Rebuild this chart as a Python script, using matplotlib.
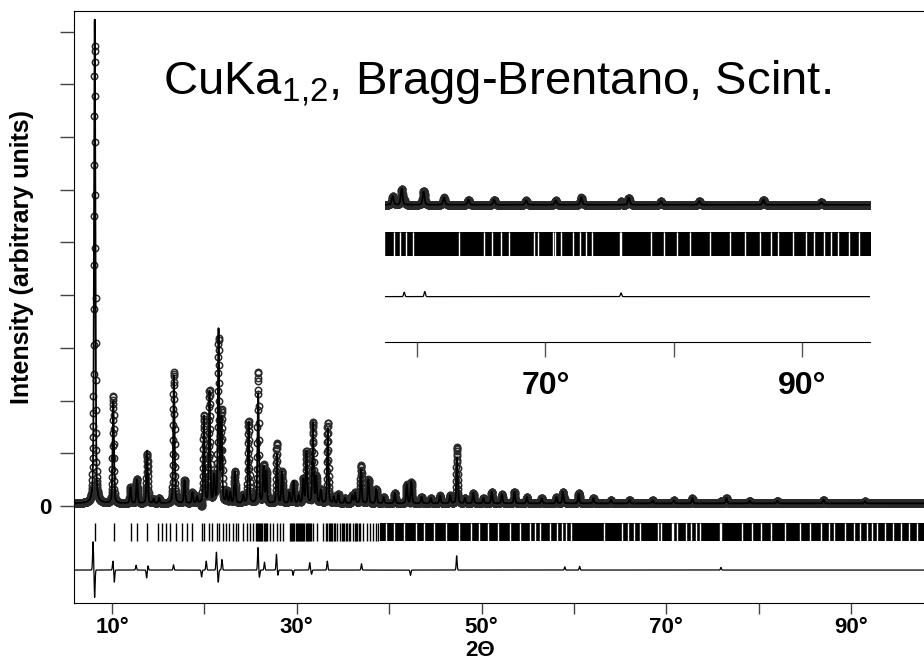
import numpy as np
import matplotlib
matplotlib.use("Agg")
import matplotlib.pyplot as plt

plt.rcParams['font.family'] = ['Liberation Sans', 'DejaVu Sans']
plt.rcParams['mathtext.fontset'] = 'custom'
plt.rcParams['mathtext.rm'] = 'Liberation Sans'
plt.rcParams['mathtext.it'] = 'Liberation Sans'
plt.rcParams['mathtext.bf'] = 'Liberation Sans:bold'

# peak positions (2theta, deg) and heights (arb. units)
peak_pos = [8.13, 10.14, 12.0, 12.7, 13.8, 14.5, 15.1, 16.7, 17.85, 18.7, 19.2,
            19.95, 20.55, 21.05, 21.53, 21.85, 22.4, 22.8, 23.3, 24.2, 24.78,
            25.82, 26.4, 26.7, 27.85, 28.4, 29.2, 29.65, 30.2, 30.7, 31.05,
            31.75, 32.1, 32.6, 33.35, 34.0, 34.5, 35.2, 36.0, 36.3, 36.95,
            37.75, 38.6, 39.4, 40.6, 41.9, 42.4, 43.5, 44.5, 45.5, 46.6,
            47.35, 48.2, 49.1, 50.2, 51.1, 52.2, 53.55, 54.9, 56.5, 58.1,
            58.8, 60.5, 62.1, 64.0, 66.0, 68.5, 70.8, 72.8, 76.5, 79.0,
            82.0, 87.0, 91.5]
peak_h = [9.2, 1.93, 0.3, 0.45, 1.0, 0.08, 0.1, 2.43, 0.43, 0.2, 0.12,
          1.65, 2.12, 0.5, 3.27, 1.58, 0.22, 0.2, 0.6, 0.15, 1.55,
          2.08, 0.68, 0.6, 0.93, 0.6, 0.2, 0.42, 0.15, 0.45, 0.98,
          1.53, 0.5, 0.25, 1.42, 0.12, 0.18, 0.1, 0.15, 0.2, 0.64,
          0.45, 0.27, 0.12, 0.2, 0.36, 0.42, 0.12, 0.1, 0.15, 0.15,
          0.87, 0.1, 0.2, 0.1, 0.22, 0.17, 0.22, 0.12, 0.1, 0.12,
          0.22, 0.18, 0.1, 0.07, 0.07, 0.06, 0.06, 0.1, 0.1, 0.05,
          0.05, 0.07, 0.04]
background = 0.05

# obs - calc features (position, amplitude)
diff_pos = [7.95, 8.12, 10.1, 10.25, 12.6, 13.75, 13.9, 16.65, 19.7, 20.2,
            21.3, 21.5, 21.9, 25.8, 25.95, 26.5, 27.8, 27.95, 29.6, 31.4,
            31.6, 33.3, 37.0, 42.3, 47.3, 59.0, 60.6, 75.9]
diff_amp = [0.54, -0.52, 0.17, -0.23, 0.09, -0.15, 0.08, 0.1, -0.13, 0.17,
            0.34, -0.23, 0.2, 0.43, -0.14, 0.15, 0.3, -0.1, -0.1, 0.14,
            -0.08, 0.17, 0.12, -0.1, 0.27, 0.06, 0.07, 0.05]
diff_offset = -1.215

# reflection tick marks (individual, low angle)
refl_pos = [8.16, 10.22, 12.06, 12.74, 13.82, 15.01, 15.38, 15.84, 16.28, 16.89,
            17.54, 18.08, 18.70, 19.70, 19.96, 20.53, 20.79, 21.33, 21.62, 22.05,
            22.30, 22.70, 23.13, 23.42, 23.67, 24.14, 24.58, 24.94, 25.30, 25.62,
            25.72, 25.84, 25.95, 26.05, 26.16, 26.28, 26.40, 26.52, 26.63, 26.75,
            27.10, 27.46, 27.82, 28.20, 28.50, 29.28, 29.40, 29.50, 29.62, 29.75,
            29.86, 29.98, 30.10, 30.22, 30.33, 30.45, 30.56, 30.70, 30.82, 30.95,
            31.07, 31.20, 31.33, 31.46, 31.58, 31.72, 32.15, 32.87, 33.20, 33.32,
            33.45, 33.58, 33.72, 33.85, 34.0, 34.15, 34.3, 34.72, 34.85, 35.0,
            35.15, 35.3, 35.45, 35.6, 35.78, 36.1, 36.25, 36.4, 36.55, 36.7,
            36.84, 37.2, 37.56, 37.92, 38.28, 38.6, 38.8]
# above this angle the tick marks merge into a solid bar; white gaps in it
band_start = 39.0
band_gaps = [39.7, 40.5, 41.6, 42.9, 43.8, 44.9, 46.1, 47.6, 48.8, 49.7,
             50.73, 51.81, 53.07, 54.16, 55.24, 55.78, 56.32, 57.4, 58.21, 58.68,
             59.14, 59.71, 63.29, 65.24, 65.81, 66.54, 67.18, 69.13, 69.44, 70.56,
             70.74, 71.18, 72.17, 72.68, 73.2, 73.67, 75.8, 75.9, 78.21, 79.22,
             80.26, 81.3, 82.86, 84.41, 85.53, 86.69, 87.6, 88.12, 89.29, 90.33,
             90.97, 91.7, 92.27, 92.79, 93.7, 94.47, 95.4, 96.2, 97.1, 98.0]
tick_lo, tick_hi = -0.66, -0.32

step = 0.015
tt = np.arange(5.9, 98.9, step)
fwhm = 0.17
eta = 0.35
calc = np.full_like(tt, background)
for p, h in zip(peak_pos, peak_h):
    x = (tt - p) / fwhm
    calc += h * ((1 - eta) * np.exp(-4 * np.log(2) * x ** 2) + eta / (1 + 4 * x ** 2))
diff = np.zeros_like(tt)
for p, a in zip(diff_pos, diff_amp):
    diff += a * np.exp(-0.5 * ((tt - p) / 0.05) ** 2)
obs = calc + diff


def draw_pattern(ax, ms):
    ax.plot(tt, obs, 'o', ms=ms, mfc='none', mec='#2a2a2a', mew=1.1, zorder=2)
    ax.plot(tt, calc, '-', color='black', lw=1.3, zorder=3)
    ax.plot(tt, diff + diff_offset, '-', color='black', lw=0.9, zorder=3)
    ax.vlines(refl_pos, tick_lo, tick_hi, color='black', lw=1.0)
    ax.fill_between([band_start, 99.5], tick_lo, tick_hi, color='black', lw=0)
    ax.vlines(band_gaps, tick_lo, tick_hi, color='white', lw=1.0)


fig = plt.figure(figsize=(9.24, 6.66), dpi=100)
ax = fig.add_axes([74 / 924, 1 - 603 / 666, 859 / 924, 592 / 666])
draw_pattern(ax, 4.6)
ax.set_xlim(5.887, 98.85)
ax.set_ylim(-1.84, 9.39)
ax.spines['right'].set_visible(False)
ax.set_xticks([10, 20, 30, 40, 50, 60, 70, 80, 90])
ax.set_xticklabels(['10°', '', '30°', '', '50°', '', '70°', '', '90°'],
                   fontsize=16, fontweight='bold')
ax.set_yticks(range(10))
ax.set_yticklabels(['0'] + [''] * 9, fontsize=16, fontweight='bold')
ax.tick_params(axis='x', direction='out', length=8, width=1, pad=2, color='#444444')
ax.tick_params(axis='y', direction='out', length=10, width=1, pad=6, color='#444444')

fig.text(480 / 924, 1 - 651 / 666, '2Θ', fontsize=16, fontweight='bold',
         ha='center', va='center')
fig.text(22 / 924, 1 - 257 / 666, 'Intensity (arbitrary units)', fontsize=18,
         fontweight='bold', rotation=90, ha='center', va='center')
fig.text(497 / 924, 1 - 95 / 666, r'CuKa$_{1{,}2}$, Bragg-Brentano, Scint.',
         fontsize=34, ha='center', va='baseline')

# enlarged inset of the high-angle part
ins = fig.add_axes([385 / 924, 1 - 342 / 666, 485 / 924, 167 / 666])
ins.patch.set_visible(False)
draw_pattern(ins, 4.6)
ins.set_xlim(57.5, 95.3)
ins.set_ylim(-1.84, 0.46)
for s in ['left', 'right', 'top']:
    ins.spines[s].set_visible(False)
ins.set_yticks([])
ins.set_xticks([60, 70, 80, 90])
ins.set_xticklabels(['', '70°', '', '90°'], fontsize=23, fontweight='bold')
ins.tick_params(axis='x', direction='out', length=11, width=1, pad=10, color='#555555')

fig.savefig('out.png', dpi=100)
